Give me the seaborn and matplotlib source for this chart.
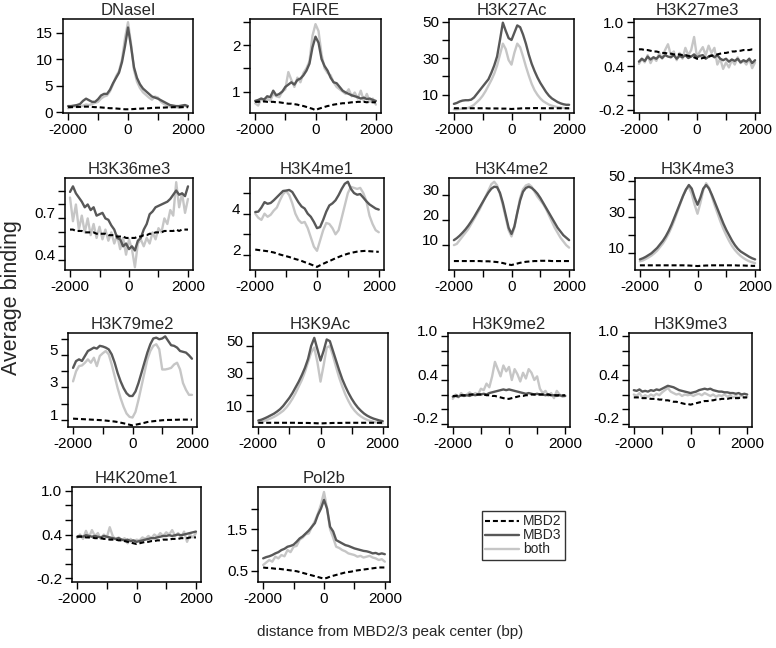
import numpy as np
import pandas as pd
import matplotlib
matplotlib.use("Agg")
import matplotlib.pyplot as plt
import seaborn as sns
from matplotlib.lines import Line2D
from matplotlib.transforms import ScaledTranslation

sns.set_style("ticks")
plt.rcParams["font.family"] = ["Liberation Sans", "DejaVu Sans"]

# distance from peak center (bp), one value every 100 bp
pos = np.arange(-2000, 2001, 100)

# ---- values ----
dnase_mbd2 = [1.0,1.0,1.0,1.05,1.05, 1.1,1.1,1.1,1.05,1.0, 1.0,0.95,0.9,0.85,0.8, 0.8,0.75,0.7,0.65,0.6,
              0.6,
              0.62,0.65,0.7,0.72,0.75, 0.78,0.8,0.85,0.88,0.9, 0.9,0.92,0.95,0.95,1.0, 1.0,0.98,1.0,1.0,1.0]
dnase_mbd3 = [1.2,1.2,1.3,1.4,1.6, 2.2,2.6,2.3,2.0,2.0, 2.5,3.2,3.5,3.5,4.3, 5.5,6.5,7.5,9.5,12.5,
              16.0,
              12.5,8.5,6.5,5.3,4.5, 4.0,3.5,3.0,2.8,2.6, 2.3,2.0,1.7,1.4,1.3, 1.2,1.2,1.3,1.4,1.2]
dnase_both = [0.8,1.0,1.2,1.0,1.1, 1.3,1.5,1.4,1.6,1.8, 2.0,2.6,3.0,3.2,4.0, 5.3,6.8,7.8,10.0,14.0,
              17.0,
              13.0,8.0,5.8,4.6,3.8, 3.3,2.8,2.4,3.0,2.8, 2.0,1.6,1.3,1.1,1.0, 1.0,0.9,1.0,1.3,1.0]

faire_mbd2 = [0.78,0.78,0.79,0.79,0.78, 0.78,0.78,0.77,0.77,0.76, 0.75,0.74,0.74,0.73,0.72, 0.7,0.69,0.67,0.65,0.63,
              0.6,
              0.63,0.65,0.67,0.69,0.7, 0.72,0.73,0.74,0.75,0.75, 0.76,0.77,0.77,0.78,0.78, 0.78,0.77,0.78,0.77,0.77]
faire_mbd3 = [0.8,0.82,0.85,0.83,0.9, 0.88,1.02,0.92,0.95,1.0, 1.1,1.15,1.2,1.15,1.25, 1.28,1.35,1.45,1.6,1.95,
              2.18,
              2.05,1.7,1.55,1.45,1.3, 1.2,1.18,1.1,1.02,0.98, 0.95,0.92,0.9,0.88,0.85, 0.87,0.84,0.85,0.82,0.8]
faire_both = [0.75,0.7,0.85,0.78,0.85, 0.8,0.95,0.9,0.88,1.0, 1.05,1.42,1.25,1.1,1.3, 1.2,1.4,1.5,1.65,2.2,
              2.45,
              2.3,1.8,1.5,1.4,1.35, 1.2,1.1,1.05,1.0,0.95, 1.05,0.9,0.98,0.85,1.02, 0.8,0.95,0.78,0.85,0.72]

k27ac_mbd2 = [2.6,2.6,2.6,2.6,2.6, 2.6,2.6,2.6,2.6,2.6, 2.6,2.6,2.5,2.5,2.5, 2.5,2.4,2.4,2.4,2.3,
              2.2,
              2.3,2.4,2.5,2.6,2.6, 2.6,2.6,2.7,2.7,2.6, 2.6,2.6,2.6,2.6,2.6, 2.6,2.6,2.6,2.6,2.6]
k27ac_mbd3 = [5.0,5.5,6.3,6.8,7.0, 7.0,7.3,8.5,10.5,12.5, 14.5,16.5,18.5,22.0,26.0, 31.0,40.0,49.5,45.0,41.0,
              40.0,
              44.0,48.0,47.0,43.0,38.0, 32.0,27.0,23.0,19.5,16.5, 14.0,11.5,9.5,8.0,7.0, 6.0,5.3,4.8,4.5,4.5]
k27ac_both = [2.0,2.0,2.2,2.3,2.5, 2.8,3.5,4.5,6.0,7.5, 9.5,12.0,15.0,18.0,21.5, 26.0,32.0,38.0,35.0,29.0,
              26.5,
              33.0,38.0,36.0,31.0,25.5, 20.5,16.0,12.5,10.0,8.0, 6.5,5.5,4.6,4.0,3.6, 3.2,3.0,2.8,2.6,2.5]

k27me3_mbd2 = [0.63,0.63,0.62,0.62,0.61, 0.6,0.6,0.59,0.58,0.58, 0.57,0.57,0.56,0.56,0.56, 0.55,0.55,0.54,0.53,0.52,
               0.5,
               0.5,0.51,0.52,0.53,0.54, 0.55,0.56,0.57,0.58,0.58, 0.59,0.6,0.6,0.61,0.61, 0.62,0.62,0.62,0.63,0.63]
k27me3_mbd3 = [0.46,0.5,0.47,0.53,0.49, 0.52,0.5,0.54,0.51,0.55, 0.53,0.52,0.55,0.5,0.54, 0.52,0.55,0.51,0.53,0.56,
               0.52,
               0.54,0.55,0.5,0.53,0.55, 0.52,0.55,0.5,0.48,0.5, 0.46,0.49,0.47,0.5,0.45, 0.48,0.46,0.5,0.44,0.48]
k27me3_both = [0.43,0.5,0.45,0.55,0.44, 0.52,0.47,0.58,0.5,0.62, 0.7,0.55,0.6,0.48,0.58, 0.5,0.65,0.55,0.62,0.8,
               0.52,
               0.6,0.66,0.55,0.68,0.58, 0.65,0.42,0.5,0.36,0.45, 0.38,0.48,0.42,0.52,0.44, 0.47,0.42,0.5,0.37,0.45]

k36me3_mbd2 = [0.62,0.62,0.61,0.61,0.61, 0.6,0.6,0.6,0.6,0.59, 0.59,0.59,0.59,0.58,0.58, 0.58,0.57,0.57,0.57,0.56,
               0.56,
               0.56,0.56,0.57,0.57,0.58, 0.58,0.59,0.59,0.6,0.6, 0.6,0.61,0.61,0.61,0.61, 0.62,0.61,0.62,0.62,0.62]
k36me3_mbd3 = [0.89,0.93,0.88,0.85,0.82, 0.78,0.8,0.76,0.78,0.72, 0.73,0.74,0.7,0.69,0.65, 0.62,0.56,0.55,0.5,0.52,
               0.48,
               0.5,0.47,0.54,0.56,0.62, 0.66,0.73,0.75,0.78,0.79, 0.8,0.81,0.82,0.84,0.87, 0.9,0.87,0.88,0.86,0.93]
k36me3_both = [0.85,0.68,0.8,0.62,0.72, 0.6,0.7,0.58,0.66,0.56, 0.64,0.55,0.62,0.54,0.6, 0.52,0.58,0.48,0.56,0.44,
               0.55,
               0.48,0.35,0.52,0.55,0.5, 0.56,0.52,0.6,0.55,0.63, 0.6,0.7,0.66,0.76,0.72, 0.96,0.78,0.88,0.74,0.84]

k4me1_mbd2 = [2.26,2.24,2.22,2.2,2.18, 2.15,2.12,2.07,2.02,1.98, 1.94,1.9,1.85,1.8,1.76, 1.71,1.65,1.6,1.54,1.48,
              1.42,
              1.5,1.57,1.64,1.7,1.77, 1.84,1.9,1.96,2.01,2.06, 2.1,2.13,2.16,2.18,2.19, 2.2,2.18,2.17,2.16,2.15]
k4me1_mbd3 = [4.08,4.1,4.3,4.56,4.48, 4.52,4.65,4.8,4.95,5.1, 5.12,5.15,5.05,4.8,4.55, 4.35,4.25,4.0,3.85,3.6,
              3.3,
              3.35,3.7,4.1,4.4,4.5, 4.65,4.9,5.2,5.45,5.55, 5.2,5.0,4.92,4.95,4.78, 4.6,4.45,4.35,4.25,4.2]
k4me1_both = [4.0,3.8,3.7,4.0,3.85, 3.95,4.15,4.3,4.65,4.95, 5.1,4.9,4.5,4.0,3.7, 3.55,3.6,3.3,2.85,2.4,
              2.2,
              2.7,3.2,3.55,3.5,3.3, 3.0,3.2,3.8,4.4,5.0, 5.3,5.25,5.2,5.25,5.0, 4.6,3.9,3.5,3.2,3.1]

k4me2_mbd2 = [3.6,3.6,3.6,3.6,3.6, 3.6,3.6,3.6,3.6,3.6, 3.5,3.5,3.5,3.4,3.3, 3.2,3.0,2.8,2.5,2.2,
              2.0,
              2.3,2.6,2.9,3.1,3.3, 3.4,3.5,3.6,3.6,3.7, 3.7,3.7,3.7,3.6,3.6, 3.6,3.6,3.6,3.6,3.6]
k4me2_mbd3 = [12.0,12.8,13.8,15.0,16.3, 17.8,19.5,21.3,23.3,25.3, 27.3,29.3,31.2,32.7,33.5, 33.3,31.0,27.0,22.0,17.0,
              14.5,
              17.5,23.0,28.0,31.5,33.0, 33.5,33.0,32.0,30.7,29.0, 27.0,25.0,23.0,21.0,19.0, 17.0,15.5,14.0,13.0,12.0]
k4me2_both = [10.0,10.5,12.0,13.5,15.0, 16.5,18.5,20.5,22.5,24.5, 27.0,29.5,32.0,34.5,35.5, 34.0,30.5,26.0,21.0,16.0,
              13.5,
              17.0,23.0,29.0,32.5,34.0, 34.5,33.5,31.5,29.5,28.0, 26.5,24.5,22.0,19.5,17.0, 15.0,13.0,11.5,10.0,9.0]

k4me3_mbd2 = [3.3,3.3,3.3,3.3,3.3, 3.3,3.3,3.3,3.3,3.3, 3.3,3.3,3.3,3.3,3.3, 3.3,3.2,3.2,3.1,3.0,
              2.9,
              3.0,3.1,3.2,3.2,3.3, 3.3,3.3,3.3,3.3,3.3, 3.3,3.3,3.3,3.2,3.2, 3.2,3.1,3.1,3.0,3.0]
k4me3_mbd3 = [6.6,7.2,8.0,9.0,10.0, 11.5,13.0,15.0,17.0,19.5, 22.5,26.0,30.0,34.0,38.0, 42.0,45.5,48.0,46.0,41.0,
              37.0,
              41.0,46.0,48.0,46.0,42.5, 38.5,34.5,30.5,26.5,23.0, 20.0,17.0,14.5,12.5,11.0, 10.0,9.0,8.0,7.2,6.6]
k4me3_both = [5.5,6.0,6.8,7.7,8.7, 10.0,11.5,13.5,15.5,18.0, 21.0,24.5,28.5,33.0,37.5, 42.0,45.5,47.0,43.0,37.0,
              32.0,
              38.0,45.0,49.0,46.5,41.5, 36.5,32.0,27.5,23.5,20.0, 16.8,14.0,11.8,10.0,8.5, 7.3,6.3,5.5,5.0,4.5]

k79me2_mbd2 = [1.06,1.05,1.04,1.03,1.02, 1.01,1.0,0.99,0.98,0.97, 0.96,0.94,0.92,0.9,0.88, 0.85,0.81,0.77,0.73,0.68,
               0.64,
               0.68,0.72,0.76,0.8,0.85, 0.88,0.9,0.92,0.94,0.96, 0.97,0.98,0.98,0.99,0.99, 1.0,1.0,1.0,1.0,1.0]
k79me2_mbd3 = [4.22,4.64,4.75,4.65,4.96, 5.27,5.37,5.48,5.42,5.59, 5.55,5.48,5.37,5.06,4.54, 3.9,3.38,2.96,2.64,2.47,
               2.47,
               2.75,3.27,3.9,4.54,5.17, 5.69,6.05,6.1,6.0,6.05, 6.18,5.9,5.63,5.59,5.48, 5.27,5.22,5.17,5.0,4.79]
k79me2_both = [3.38,4.0,4.33,4.37,4.54, 4.75,4.54,4.85,4.33,4.96, 5.13,5.27,5.06,4.43,3.7, 2.96,2.33,1.8,1.38,1.17,
               1.13,
               1.48,2.22,3.06,3.9,4.75, 5.27,5.59,5.69,5.38,4.12, 4.12,4.16,4.22,4.43,4.54, 4.12,3.27,2.85,2.54,2.54]

k9ac_mbd2 = [2.6,2.6,2.6,2.6,2.6, 2.6,2.6,2.6,2.6,2.6, 2.6,2.6,2.6,2.5,2.5, 2.5,2.5,2.4,2.4,2.3,
             2.2,
             2.3,2.4,2.4,2.5,2.5, 2.5,2.5,2.6,2.6,2.6, 2.6,2.6,2.6,2.6,2.6, 2.6,2.6,2.6,2.6,2.6]
k9ac_mbd3 = [4.0,4.5,5.3,6.2,7.2, 8.2,9.5,11.0,13.0,15.5, 18.0,21.0,24.5,28.0,32.0, 36.5,42.0,50.0,55.0,48.0,
             41.0,
             47.0,54.0,53.0,47.0,41.0, 35.0,29.5,25.0,21.0,17.5, 14.5,12.0,10.0,8.3,7.0, 6.0,5.2,4.6,4.0,3.6]
k9ac_both = [2.8,3.2,3.8,4.5,5.3, 6.2,7.3,8.6,10.0,12.0, 14.5,17.5,21.0,25.0,29.0, 34.0,40.0,46.0,49.0,40.0,
             28.0,
             38.0,49.0,50.0,44.0,37.0, 30.5,25.0,20.0,16.0,12.5, 10.0,8.0,6.5,5.3,4.4, 3.7,3.2,2.8,2.5,2.3]

k9me2_mbd2 = [0.18,0.18,0.19,0.19,0.19, 0.19,0.2,0.2,0.2,0.2, 0.2,0.2,0.19,0.19,0.18, 0.18,0.17,0.16,0.15,0.14,
              0.14,
              0.15,0.16,0.17,0.18,0.18, 0.19,0.19,0.2,0.2,0.2, 0.2,0.2,0.2,0.2,0.19, 0.19,0.19,0.19,0.19,0.19]
k9me2_mbd3 = [0.17,0.18,0.17,0.19,0.18, 0.19,0.18,0.2,0.19,0.2, 0.2,0.21,0.2,0.22,0.23, 0.24,0.25,0.26,0.27,0.26,
              0.27,
              0.26,0.25,0.24,0.23,0.22, 0.21,0.22,0.21,0.2,0.21, 0.2,0.2,0.19,0.2,0.19, 0.19,0.18,0.19,0.18,0.18]
k9me2_both = [0.14,0.2,0.16,0.22,0.18, 0.2,0.23,0.19,0.22,0.2, 0.28,0.26,0.35,0.3,0.45, 0.65,0.55,0.45,0.6,0.52,
              0.58,
              0.4,0.55,0.48,0.38,0.5, 0.42,0.55,0.5,0.4,0.45, 0.28,0.22,0.25,0.18,0.22, 0.15,0.25,0.2,0.17,0.18]

k9me3_mbd2 = [0.16,0.16,0.16,0.15,0.15, 0.15,0.14,0.14,0.14,0.13, 0.13,0.12,0.12,0.11,0.1, 0.1,0.09,0.08,0.07,0.07,
              0.06,
              0.07,0.08,0.09,0.1,0.11, 0.11,0.12,0.12,0.13,0.13, 0.14,0.14,0.14,0.15,0.15, 0.15,0.15,0.16,0.16,0.16]
k9me3_mbd3 = [0.26,0.25,0.27,0.24,0.25, 0.24,0.26,0.25,0.27,0.26, 0.28,0.3,0.32,0.31,0.3, 0.28,0.26,0.25,0.24,0.23,
              0.22,
              0.23,0.24,0.26,0.27,0.28, 0.27,0.28,0.26,0.25,0.24, 0.24,0.23,0.23,0.22,0.22, 0.21,0.22,0.2,0.21,0.2]
k9me3_both = [0.2,0.18,0.22,0.16,0.19, 0.17,0.2,0.18,0.21,0.19, 0.23,0.26,0.29,0.24,0.22, 0.2,0.21,0.18,0.2,0.19,
              0.2,
              0.18,0.2,0.21,0.19,0.22, 0.2,0.18,0.2,0.17,0.19, 0.18,0.2,0.17,0.19,0.16, 0.18,0.16,0.19,0.15,0.17]

k20me1_mbd2 = [0.37,0.37,0.37,0.36,0.36, 0.36,0.35,0.35,0.35,0.34, 0.34,0.33,0.33,0.33,0.32, 0.32,0.31,0.3,0.29,0.28,
               0.27,
               0.28,0.29,0.3,0.3,0.31, 0.31,0.32,0.32,0.33,0.33, 0.33,0.34,0.34,0.34,0.35, 0.35,0.35,0.36,0.36,0.36]
k20me1_mbd3 = [0.37,0.38,0.37,0.39,0.38, 0.37,0.38,0.37,0.36,0.38, 0.37,0.36,0.35,0.34,0.35, 0.33,0.32,0.33,0.31,0.32,
               0.3,
               0.31,0.32,0.33,0.34,0.35, 0.35,0.36,0.37,0.38,0.38, 0.39,0.38,0.39,0.4,0.39, 0.4,0.41,0.42,0.43,0.44]
k20me1_both = [0.35,0.4,0.34,0.45,0.36, 0.46,0.38,0.42,0.34,0.4, 0.36,0.5,0.38,0.33,0.36, 0.32,0.35,0.28,0.34,0.3,
               0.33,
               0.32,0.36,0.34,0.38,0.35, 0.4,0.37,0.42,0.38,0.43, 0.4,0.46,0.38,0.42,0.36, 0.44,0.3,0.4,0.36,0.42]

pol2b_mbd2 = [0.58,0.57,0.57,0.56,0.55, 0.55,0.54,0.53,0.52,0.51, 0.5,0.49,0.47,0.45,0.43, 0.41,0.39,0.37,0.35,0.33,
              0.31,
              0.33,0.36,0.38,0.4,0.42, 0.44,0.46,0.47,0.48,0.5, 0.51,0.52,0.53,0.54,0.55, 0.56,0.57,0.58,0.58,0.58]
pol2b_mbd3 = [0.8,0.83,0.85,0.88,0.92, 0.95,1.0,1.03,1.08,1.1, 1.13,1.2,1.28,1.33,1.4, 1.47,1.56,1.65,1.85,2.0,
              2.21,
              2.0,1.56,1.45,1.24,1.2, 1.16,1.12,1.1,1.07,1.04, 1.02,1.0,0.98,0.97,0.95, 0.92,0.93,0.9,0.92,0.9]
pol2b_both = [0.64,0.7,0.76,0.72,0.84, 0.8,0.88,0.85,1.0,0.95, 1.08,1.1,1.25,1.3,1.38, 1.4,1.56,1.7,1.88,2.1,
              2.4,
              2.0,1.5,1.3,1.08,1.05, 1.0,0.97,0.92,0.9,0.88, 0.84,0.86,0.82,0.84,0.86, 0.82,0.8,0.76,0.78,0.72]

titles = ["DNaseI", "FAIRE", "H3K27Ac", "H3K27me3",
          "H3K36me3", "H3K4me1", "H3K4me2", "H3K4me3",
          "H3K79me2", "H3K9Ac", "H3K9me2", "H3K9me3",
          "H4K20me1", "Pol2b"]
series = [(dnase_mbd2, dnase_mbd3, dnase_both), (faire_mbd2, faire_mbd3, faire_both),
          (k27ac_mbd2, k27ac_mbd3, k27ac_both), (k27me3_mbd2, k27me3_mbd3, k27me3_both),
          (k36me3_mbd2, k36me3_mbd3, k36me3_both), (k4me1_mbd2, k4me1_mbd3, k4me1_both),
          (k4me2_mbd2, k4me2_mbd3, k4me2_both), (k4me3_mbd2, k4me3_mbd3, k4me3_both),
          (k79me2_mbd2, k79me2_mbd3, k79me2_both), (k9ac_mbd2, k9ac_mbd3, k9ac_both),
          (k9me2_mbd2, k9me2_mbd3, k9me2_both), (k9me3_mbd2, k9me3_mbd3, k9me3_both),
          (k20me1_mbd2, k20me1_mbd3, k20me1_both), (pol2b_mbd2, pol2b_mbd3, pol2b_both)]

# y-axis: limits, tick positions, tick labels ('' = unlabeled tick)
hist_ticks = [-0.2, 0.0, 0.2, 0.4, 0.6, 0.8, 1.0]
hist_labels = ["-0.2", "", "", "0.4", "", "", "1.0"]
yaxes = [
    ((-0.1, 17.6), [0, 5, 10, 15], ["0", "5", "10", "15"]),
    ((0.54, 2.56), [1, 1.5, 2, 2.5], ["1", "", "2", ""]),
    ((0, 51.5), [10, 20, 30, 40, 50], ["10", "", "30", "", "50"]),
    ((-0.248, 1.048), hist_ticks, hist_labels),
    ((0.33, 0.99), [0.4, 0.5, 0.6, 0.7, 0.8, 0.9], ["0.4", "", "", "0.7", "", ""]),
    ((1.27, 5.73), [2, 3, 4, 5], ["2", "", "4", ""]),
    ((0, 37), [10, 20, 30], ["10", "20", "30"]),
    ((0.7, 51.9), [10, 20, 30, 40, 50], ["10", "", "30", "", "50"]),
    ((0.54, 6.39), [1, 2, 3, 4, 5, 6], ["1", "", "3", "", "5", ""]),
    ((0, 58), [10, 20, 30, 40, 50], ["10", "", "30", "", "50"]),
    ((-0.248, 1.048), hist_ticks, hist_labels),
    ((-0.248, 1.048), hist_ticks, hist_labels),
    ((-0.248, 1.048), hist_ticks, hist_labels),
    ((0.23, 2.52), [0.5, 1.0, 1.5, 2.0], ["0.5", "", "1.5", ""]),
]

# panel boxes in pixels: left, top, right, bottom
boxes = [(63, 19, 193, 113), (250, 19, 381, 113), (449, 19, 574, 113), (634, 19, 760, 113),
         (65, 178, 193, 270), (250, 178, 384, 270), (449, 178, 574, 270), (635, 178, 760, 270),
         (68, 333, 197, 427), (253, 333, 388, 427), (448, 333, 570, 427), (629, 333, 752, 427),
         (72, 487, 201, 582), (258, 487, 390, 582)]

W, H = 776, 648
fig = plt.figure(figsize=(W / 100, H / 100), dpi=100)

c_mbd2, c_mbd3, c_both = "black", "#585858", "#c6c6c6"
dash = (0, (2.4, 1.4))

for i, (title, (m2, m3, bo)) in enumerate(zip(titles, series)):
    l, t, r, b = boxes[i]
    ax = fig.add_axes([l / W, 1 - b / H, (r - l) / W, (b - t) / H])
    df = pd.DataFrame({"pos": pos, "MBD2": m2, "MBD3": m3, "both": bo})
    sns.lineplot(data=df, x="pos", y="both", color=c_both, lw=1.7, ax=ax)
    sns.lineplot(data=df, x="pos", y="MBD3", color=c_mbd3, lw=1.7, ax=ax)
    sns.lineplot(data=df, x="pos", y="MBD2", color=c_mbd2, lw=1.5, linestyle=dash, ax=ax)

    ylim, yt, yl = yaxes[i]
    ax.set_xlim(-2170, 2170)
    ax.set_ylim(*ylim)
    ax.set_xticks([-2000, -1000, 0, 1000, 2000])
    ax.set_xticklabels(["-2000", "", "0", "", "2000"])
    ax.set_yticks(yt)
    ax.set_yticklabels(yl)
    ax.set_xlabel("")
    ax.set_ylabel("")
    ax.set_title(title, fontsize=12, pad=3)
    ax.tick_params(direction="out", length=5, width=1, labelsize=11, pad=2, colors="black")
    for s in ax.spines.values():
        s.set_visible(True)
        s.set_linewidth(1.1)
        s.set_color("black")
    # rows 2 and 3 have their y labels sitting slightly above the ticks
    if 4 <= i <= 11:
        shift = ScaledTranslation(0, 4 / 72, fig.dpi_scale_trans)
        for lab in ax.get_yticklabels():
            lab.set_transform(lab.get_transform() + shift)

handles = [Line2D([], [], color=c_mbd2, lw=1.5, linestyle=dash),
           Line2D([], [], color=c_mbd3, lw=1.7),
           Line2D([], [], color=c_both, lw=1.7)]
fig.legend(handles, ["MBD2", "MBD3", "both"], loc="upper left",
           bbox_to_anchor=(482 / W, 1 - 511 / H), frameon=True, fancybox=False,
           edgecolor="black", fontsize=10, handlelength=2.4, labelspacing=0.0,
           borderpad=0.25, handletextpad=0.3, borderaxespad=0)

fig.text(12 / W, 1 - 298 / H, "Average binding", rotation=90, fontsize=15.5,
         ha="center", va="center")
fig.text(390 / W, 1 - 632 / H, "distance from MBD2/3 peak center (bp)", fontsize=11,
         ha="center", va="center")

fig.savefig("out.png", dpi=100)
